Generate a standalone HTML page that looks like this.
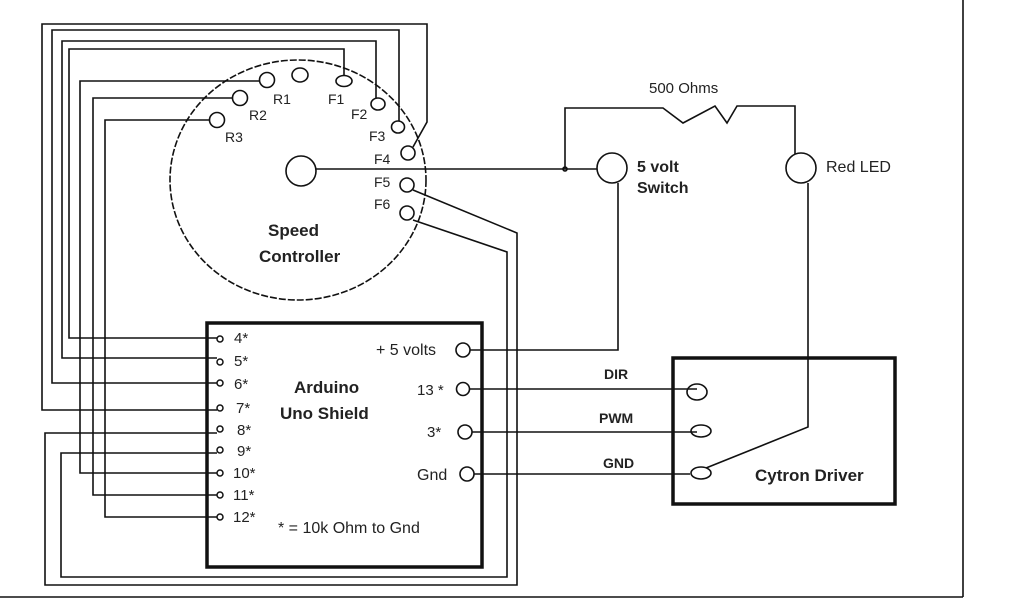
<!DOCTYPE html>
<html><head><meta charset="utf-8"><style>
html,body{margin:0;padding:0;background:#fff;}
svg{display:block;}
text{font-family:"Liberation Sans",sans-serif;fill:#222;}
.b{font-weight:bold;}
</style></head><body>
<svg width="1024" height="600" viewBox="0 0 1024 600" xmlns="http://www.w3.org/2000/svg">
<g fill="none" stroke="#111" stroke-width="1.6">
<!-- frame -->
<line x1="963" y1="0" x2="963" y2="597"/>
<line x1="0" y1="597" x2="963" y2="597"/>
<!-- speed controller -->
<ellipse cx="298" cy="180" rx="128" ry="120" stroke-dasharray="7,2"/>
<circle cx="301" cy="171" r="15"/>
<ellipse cx="300" cy="75" rx="8" ry="7"/>
<circle cx="267" cy="80" r="7.5"/>
<circle cx="240" cy="98" r="7.5"/>
<circle cx="217" cy="120" r="7.5"/>
<ellipse cx="344" cy="81" rx="8" ry="5.5"/>
<ellipse cx="378" cy="104" rx="7" ry="6"/>
<ellipse cx="398" cy="127" rx="6.5" ry="6"/>
<circle cx="408" cy="153" r="7"/>
<circle cx="407" cy="185" r="7"/>
<circle cx="407" cy="213" r="7"/>
<!-- top wires -->
<polyline points="217,410 42,410 42,24 427,24 427,122 413,147"/>
<polyline points="217,383 52,383 52,30 399,30 399,121"/>
<polyline points="217,358 62,358 62,41 376,41 376,98"/>
<polyline points="217,338 69,338 69,49 344,49 344,75"/>
<polyline points="217,473 80,473 80,81 260,81"/>
<polyline points="217,495 93,495 93,98 232,98"/>
<polyline points="217,517 105,517 105,120 210,120"/>
<!-- bottom loops -->
<polyline points="217,433 45,433 45,585 517,585 517,233 413,190"/>
<polyline points="217,453 61,453 61,577 507,577 507,252 413,220"/>
<!-- switch / resistor / LED -->
<line x1="316" y1="169" x2="597" y2="169"/>
<circle cx="565" cy="169" r="2"/>
<polyline points="565,169 565,108 663,108 683,123 715,106 727,123 737,106 795,106 795,154"/>
<circle cx="612" cy="168" r="15"/>
<circle cx="801" cy="168" r="15"/>
<polyline points="618,183 618,350 470,350"/>
<polyline points="808,183 808,427 706,468"/>
<!-- arduino right pins -->
<circle cx="463" cy="350" r="7"/>
<circle cx="463" cy="389" r="6.5"/>
<circle cx="465" cy="432" r="7"/>
<circle cx="467" cy="474" r="7"/>
<line x1="470" y1="389" x2="697" y2="389"/>
<line x1="472" y1="432" x2="697" y2="432"/>
<line x1="474" y1="474" x2="690" y2="474"/>
<ellipse cx="697" cy="392" rx="10" ry="8"/>
<ellipse cx="701" cy="431" rx="10" ry="6"/>
<ellipse cx="701" cy="473" rx="10" ry="6"/>
<!-- arduino left pins -->
<g stroke-width="1.5">
<circle cx="220" cy="339" r="3"/><circle cx="220" cy="362" r="3"/><circle cx="220" cy="383" r="3"/>
<circle cx="220" cy="408" r="3"/><circle cx="220" cy="429" r="3"/><circle cx="220" cy="450" r="3"/>
<circle cx="220" cy="473" r="3"/><circle cx="220" cy="495" r="3"/><circle cx="220" cy="517" r="3"/>
</g>
<!-- boxes -->
<rect x="207" y="323" width="275" height="244" stroke-width="3.5"/>
<rect x="673" y="358" width="222" height="146" stroke-width="3.5"/>
</g>
<g font-size="14">
<text x="273" y="104">R1</text><text x="249" y="120">R2</text><text x="225" y="142">R3</text>
<text x="328" y="104">F1</text><text x="351" y="119">F2</text><text x="369" y="141">F3</text>
<text x="374" y="164">F4</text><text x="374" y="187">F5</text><text x="374" y="209">F6</text>
<text x="649" y="93" font-size="15">500 Ohms</text>
<text x="826" y="172" font-size="16">Red LED</text>
<text x="637" y="172" class="b" font-size="16">5 volt</text>
<text x="637" y="193" class="b" font-size="16">Switch</text>
<text x="268" y="236" class="b" font-size="17">Speed</text>
<text x="259" y="262" class="b" font-size="17">Controller</text>
<text x="294" y="393" class="b" font-size="17">Arduino</text>
<text x="280" y="419" class="b" font-size="17">Uno Shield</text>
<g font-size="15">
<text x="234" y="343">4*</text><text x="234" y="366">5*</text><text x="234" y="389">6*</text>
<text x="236" y="413">7*</text><text x="237" y="435">8*</text><text x="237" y="456">9*</text>
<text x="233" y="478">10*</text><text x="233" y="500">11*</text><text x="233" y="522">12*</text>
<text x="376" y="355" font-size="16">+ 5 volts</text>
<text x="417" y="395">13 *</text>
<text x="427" y="437">3*</text>
<text x="417" y="480" font-size="16">Gnd</text>
<text x="278" y="533" font-size="16">* = 10k Ohm to Gnd</text>
</g>
<text x="604" y="379" class="b">DIR</text>
<text x="599" y="423" class="b">PWM</text>
<text x="603" y="468" class="b">GND</text>
<text x="755" y="481" class="b" font-size="17">Cytron Driver</text>
</g>
</svg>
</body></html>
